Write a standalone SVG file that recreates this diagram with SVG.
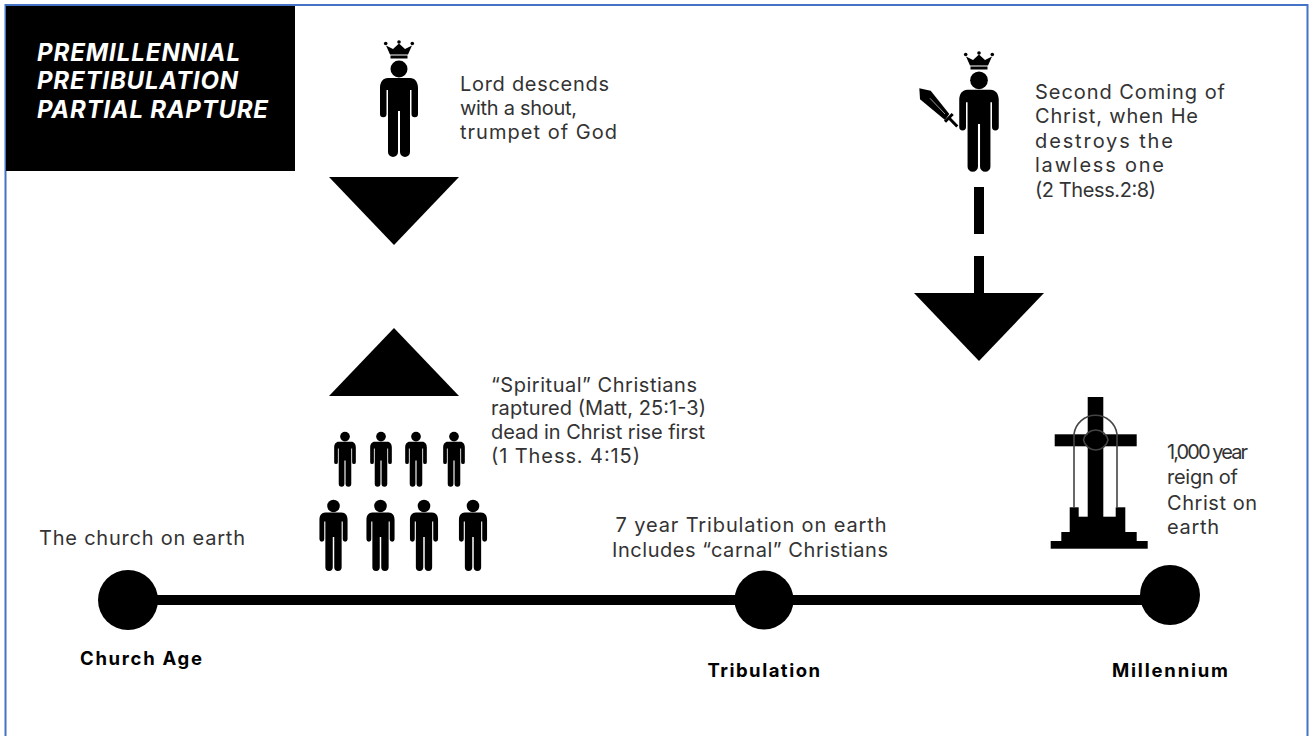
<svg xmlns="http://www.w3.org/2000/svg" width="1309" height="736" viewBox="0 0 1309 736">
<style>
text{font-family:"Inter","Liberation Sans",sans-serif;font-size:20px;fill:#333}
.b{font-weight:700;font-size:18.500px;fill:#000}
.t{font-weight:700;font-style:italic;font-size:24px;fill:#fff}
.k{fill:#000}
</style>
<defs>
<g id="person" class="k"><circle cx="0" cy="8" r="8.500"/><path d="M-11 17H11C16 17 19 21 19 27V53A3.250 3.250 0 0 1 12.500 53V29H11V91A5 5 0 0 1 1 91V50H-1V91A5 5 0 0 1-11 91V29H-12.500V53A3.250 3.250 0 0 1-19 53V27C-19 21-16 17-11 17Z"/></g>
<g id="crown" class="k"><path d="M-9 12.500L-13 3.500L-6 7L0 1.500L6 7L13 3.500L9 12.500Z"/><rect x="-8.500" y="13.500" width="17" height="3"/><circle cx="-13.300" cy="1.500" r="1.800"/><circle cx="0" cy="0" r="1.800"/><circle cx="13.300" cy="1.500" r="1.800"/></g>
</defs>
<rect width="1309" height="736" fill="#fff"/>
<path d="M5.500 736V5H1307.500V736" fill="none" stroke="#4472c4" stroke-width="2"/>
<g id="title"><rect x="6" y="6" width="289" height="165" fill="#000"/>
<text class="t" x="37" y="61" textLength="203">PREMILLENNIAL</text>
<text class="t" x="37" y="89" textLength="201">PRETIBULATION</text>
<text class="t" x="37" y="118" textLength="231">PARTIAL RAPTURE</text></g>
<g id="connectors">
<rect x="128" y="595" width="1042" height="10" class="k"/>
<polygon points="329,177 459,177 394,245" class="k"/>
<polygon points="329,396 459,396 394,328" class="k"/>
<polygon points="914,293 1044,293 979,361" class="k"/>
<rect x="974" y="187" width="10" height="47" class="k"/>
<rect x="974" y="256" width="10" height="38" class="k"/>
</g>
<g id="lord"><use href="#crown" x="399" y="42"/><use href="#person" transform="translate(399,61)"/>
<text x="460" y="90.500" textLength="149">Lord descends</text><text x="460" y="115" textLength="117">with a shout,</text><text x="460" y="138.500" textLength="157">trumpet of God</text></g>
<g id="second"><use href="#crown" x="979" y="53"/><use href="#person" transform="translate(979,72) scale(1.04)"/>
<polygon class="k" points="919.300,88.300 930.700,90.700 949.300,114 945,120 920,99.300"/><path d="M952.700 114L945 121.700M949 118L957.300 126.500" stroke="#000" stroke-width="3" fill="none"/><path d="M930 98.300L945 114" stroke="#999" stroke-width="1"/>
<text x="1035" y="98.500" textLength="190">Second Coming of</text><text x="1035" y="123" textLength="163">Christ, when He</text><text x="1035" y="148" textLength="138">destroys the</text><text x="1035" y="172" textLength="129">lawless one</text><text x="1035" y="197" textLength="121">(2 Thess.2:8)</text></g>
<g id="spiritual">
<use href="#person" transform="translate(345,432) scale(.57)"/><use href="#person" transform="translate(381,432) scale(.57)"/><use href="#person" transform="translate(416,432) scale(.57)"/><use href="#person" transform="translate(454,432) scale(.57)"/>
<use href="#person" transform="translate(333.500,500) scale(.74)"/><use href="#person" transform="translate(380.500,500) scale(.74)"/><use href="#person" transform="translate(424,500) scale(.74)"/><use href="#person" transform="translate(473,500) scale(.74)"/>
<text x="491" y="392" textLength="206">“Spiritual” Christians</text><text x="491" y="415" textLength="215">raptured (Matt, 25:1-3)</text><text x="491" y="439" textLength="214">dead in Christ rise first</text><text x="491" y="463" textLength="149">(1 Thess. 4:15)</text></g>
<g id="church-age"><circle cx="128" cy="600" r="30" class="k"/><text x="39" y="545" textLength="206">The church on earth</text><text class="b" x="80" y="665" textLength="122">Church Age</text></g>
<g id="tribulation"><circle cx="764" cy="600" r="29.500" class="k"/><text x="615.500" y="532" textLength="271">7 year Tribulation on earth</text><text x="612" y="557" textLength="276">Includes “carnal” Christians</text><text class="b" x="707.500" y="676.500" textLength="112.500">Tribulation</text></g>
<g id="millennium"><circle cx="1170" cy="595" r="30" class="k"/>
<g class="k"><rect x="1087.700" y="397" width="15.600" height="120"/><rect x="1054.700" y="434.300" width="82" height="12"/><rect x="1069.700" y="507.300" width="9" height="26"/><rect x="1115.700" y="507.300" width="9.600" height="26"/><rect x="1078" y="516.700" width="38" height="16"/><rect x="1061.300" y="532" width="75.400" height="9.500"/><rect x="1050.700" y="541" width="97" height="7.700"/></g>
<path d="M1074 508V434A21.700 21.700 0 0 1 1117 434V508M1083.500 440A12.500 12.500 0 0 1 1108 440A12.500 12.500 0 0 1 1083.500 440" fill="none" stroke="#444" stroke-width="1.600"/>
<text x="1167" y="459" textLength="81">1,000 year</text><text x="1167" y="484" textLength="71">reign of</text><text x="1167" y="510" textLength="90">Christ on</text><text x="1167" y="534" textLength="52">earth</text><text class="b" x="1112" y="677" textLength="116">Millennium</text></g>
</svg>
